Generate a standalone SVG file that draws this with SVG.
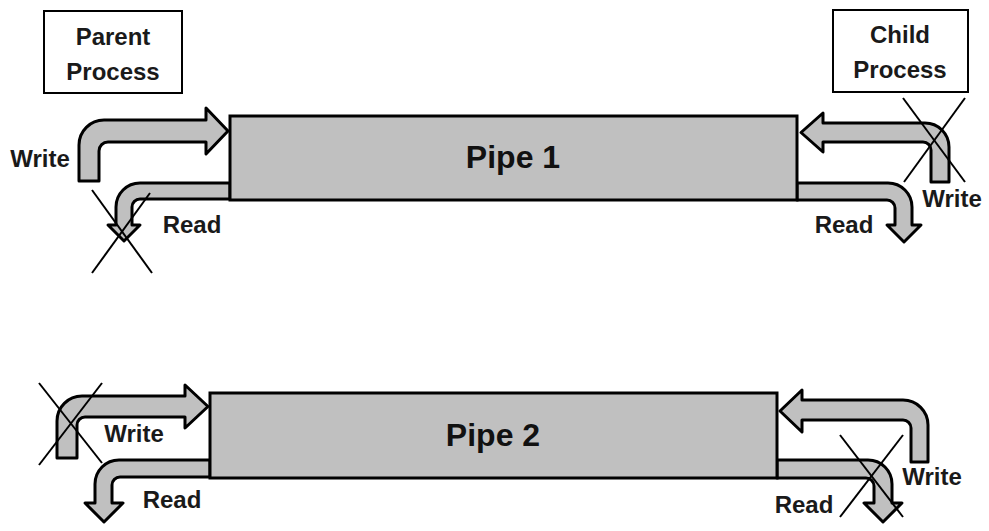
<svg xmlns="http://www.w3.org/2000/svg" width="989" height="531" viewBox="0 0 989 531">
<style>
.arrow{fill:#c0c0c0;stroke:#000;stroke-width:3;stroke-linejoin:round}
.pipe{fill:#c0c0c0;stroke:#000;stroke-width:3}
.box{fill:#fff;stroke:#000;stroke-width:2}
.cross{stroke:#000;stroke-width:2;fill:none}
.lbl{font-family:"Liberation Sans",Arial,sans-serif;font-weight:bold;font-size:24px;fill:#1a1a1a;text-anchor:middle}
.big{font-family:"Liberation Sans",Arial,sans-serif;font-weight:bold;font-size:32px;fill:#111;text-anchor:middle}
</style>
<rect width="989" height="531" fill="#fff"/>
<g id="connectors">
<path class="arrow" d="M 79 181 L 79 145 A 25 25 0 0 1 104 120 L 206 120 L 206 108 L 228 131 L 206 154 L 206 142 L 108 142 A 9 9 0 0 0 99 151 L 99 181 Z"/>
<path class="arrow" d="M 230 183 L 140 183 A 24 24 0 0 0 116 207 L 116 225 L 108 225 L 124 241 L 140 225 L 132 225 L 132 207 A 8 8 0 0 1 140 199 L 230 199 Z"/>
<path class="arrow" d="M 949 182 L 949 147 A 24 24 0 0 0 925 123 L 823 123 L 823 113 L 801 132.5 L 823 152 L 823 142 L 923 142 A 8 8 0 0 1 931 150 L 931 182 Z"/>
<path class="arrow" d="M 797 183 L 888 183 A 24 24 0 0 1 912 207 L 912 225 L 921 225 L 904 242 L 887 225 L 895 225 L 895 208 A 8 8 0 0 0 887 200 L 797 200 Z"/>
<path class="arrow" d="M 57 458 L 57 421 A 25 25 0 0 1 82 396 L 185 396 L 185 385 L 208 406.5 L 185 428 L 185 417 L 85 417 A 8 8 0 0 0 77 425 L 77 458 Z"/>
<path class="arrow" d="M 210 460 L 119 460 A 24 24 0 0 0 95 484 L 95 503 L 85 503 L 104 522 L 123 503 L 112 503 L 112 485 A 8 8 0 0 1 120 477 L 210 477 Z"/>
<path class="arrow" d="M 928 462 L 928 425 A 25 25 0 0 0 903 400 L 802 400 L 802 390 L 780 411 L 802 432 L 802 420 L 903 420 A 8 8 0 0 1 911 428 L 911 462 Z"/>
<path class="arrow" d="M 777 460 L 868 460 A 24 24 0 0 1 892 484 L 892 503 L 902 503 L 883 522 L 864 503 L 874 503 L 874 486 A 8 8 0 0 0 866 478 L 777 478 Z"/>
</g>
<g id="pipe1">
<rect class="pipe" x="230" y="116" width="567" height="84"/>
<text class="big" x="513" y="168">Pipe 1</text>
</g>
<g id="pipe2">
<rect class="pipe" x="210" y="393" width="567" height="85"/>
<text class="big" x="493" y="446">Pipe 2</text>
</g>
<g id="parent">
<rect class="box" x="44" y="11" width="138" height="82"/>
<text class="lbl" x="113" y="45">Parent</text>
<text class="lbl" x="113" y="80">Process</text>
</g>
<g id="child">
<rect class="box" x="833" y="10" width="135" height="82"/>
<text class="lbl" x="900" y="43">Child</text>
<text class="lbl" x="900" y="78">Process</text>
</g>
<g id="labels">
<text class="lbl" x="40" y="167">Write</text>
<text class="lbl" x="192" y="233">Read</text>
<text class="lbl" x="952" y="207">Write</text>
<text class="lbl" x="844" y="233">Read</text>
<text class="lbl" x="134" y="442">Write</text>
<text class="lbl" x="172" y="508">Read</text>
<text class="lbl" x="932" y="485">Write</text>
<text class="lbl" x="804" y="513">Read</text>
</g>
<g id="crosses">
<line class="cross" x1="92" y1="190" x2="152" y2="273"/>
<line class="cross" x1="150" y1="193" x2="92" y2="273"/>
<line class="cross" x1="903" y1="98" x2="965" y2="182"/>
<line class="cross" x1="965" y1="98" x2="904" y2="182"/>
<line class="cross" x1="39" y1="383" x2="102" y2="463"/>
<line class="cross" x1="102" y1="383" x2="39" y2="465"/>
<line class="cross" x1="840" y1="435" x2="903" y2="517"/>
<line class="cross" x1="903" y1="435" x2="840" y2="517"/>
</g>
</svg>
